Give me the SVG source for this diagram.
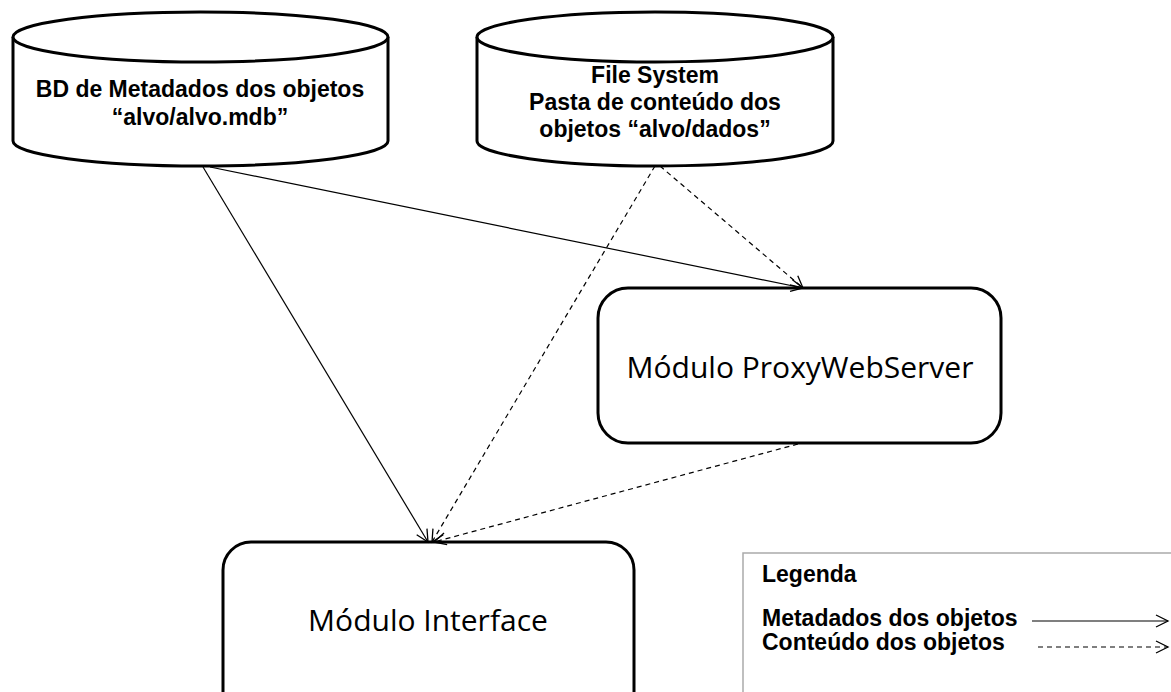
<svg xmlns="http://www.w3.org/2000/svg" width="1171" height="692" viewBox="0 0 1171 692">
<defs>
<marker id="arr" markerWidth="16" markerHeight="16" refX="13" refY="8" orient="auto" markerUnits="userSpaceOnUse">
<path d="M1,2 L13,8 L1,14" fill="none" stroke="#000" stroke-width="1.3"/>
</marker>
<style>
.shape{fill:#fff;stroke:#000;stroke-width:3}
.cyl{font-family:"Liberation Sans",Arial,sans-serif;font-weight:bold;font-size:23px;text-anchor:middle}
.box{font-family:"Open Sans","Liberation Sans",sans-serif;font-size:30px;text-anchor:middle}
.leg{font-family:"Liberation Sans",Arial,sans-serif;font-weight:bold;font-size:23px}
.solid{fill:none;stroke:#000;stroke-width:1.2}
.dash{fill:none;stroke:#000;stroke-width:1.2;stroke-dasharray:5,4}
</style>
</defs>
<rect width="1171" height="692" fill="#fff"/>
<g id="bd-metadados">
<path class="shape" d="M13,37 L13,141 A187.5,25 0 0 0 388,141 L388,37"/>
<ellipse class="shape" cx="200.5" cy="37" rx="187.5" ry="25"/>
<text class="cyl" x="200" y="97">BD de Metadados dos objetos</text>
<text class="cyl" x="200" y="125">“alvo/alvo.mdb”</text>
</g>
<g id="file-system">
<path class="shape" d="M477,37 L477,141 A178,25 0 0 0 833,141 L833,37"/>
<ellipse class="shape" cx="655" cy="37" rx="178" ry="25"/>
<text class="cyl" x="655" y="83">File System</text>
<text class="cyl" x="655" y="110">Pasta de conteúdo dos</text>
<text class="cyl" x="655" y="137">objetos “alvo/dados”</text>
</g>
<g id="proxy">
<rect class="shape" x="598" y="288" width="403" height="155" rx="30"/>
<text class="box" x="800" y="378">Módulo ProxyWebServer</text>
</g>
<g id="interface">
<rect class="shape" x="223" y="542" width="411" height="180" rx="28"/>
<text class="box" x="428" y="631">Módulo Interface</text>
</g>
<g id="legenda">
<rect x="743" y="553" width="450" height="160" fill="#fff" stroke="#aaa" stroke-width="1.5"/>
<text class="leg" x="762" y="582">Legenda</text>
<text class="leg" x="762" y="626">Metadados dos objetos</text>
<text class="leg" x="762" y="650">Conteúdo dos objetos</text>
<line class="solid" x1="1032" y1="621" x2="1168" y2="621" marker-end="url(#arr)"/>
<line class="dash" x1="1038" y1="647" x2="1168" y2="647" marker-end="url(#arr)"/>
</g>
<g id="connectors">
<line class="solid" x1="203" y1="167" x2="428" y2="542" marker-end="url(#arr)"/>
<line class="solid" x1="210" y1="167" x2="803" y2="288" marker-end="url(#arr)"/>
<line class="dash" x1="655" y1="166" x2="432" y2="542" marker-end="url(#arr)"/>
<line class="dash" x1="660" y1="166" x2="803" y2="288" marker-end="url(#arr)"/>
<line class="dash" x1="798" y1="444" x2="434" y2="542" marker-end="url(#arr)"/>
</g>
</svg>
